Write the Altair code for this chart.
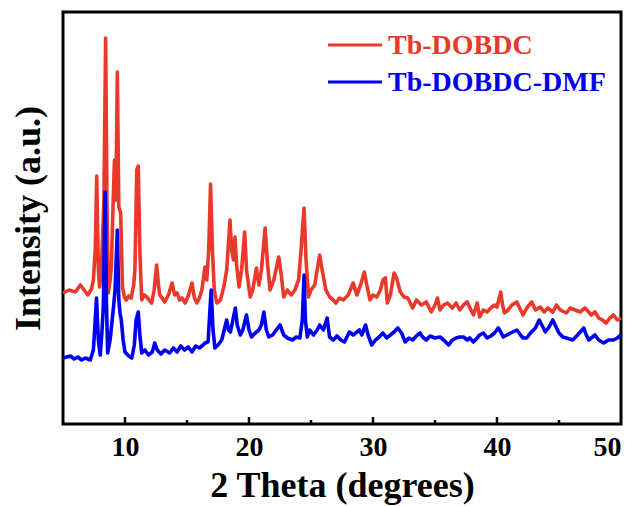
import altair as alt
import pandas as pd

# Powder XRD patterns, 2θ in degrees, intensity in arbitrary units (offset stacked)
tb_theta = [5.0, 5.5, 6.0, 6.4, 6.7, 7.0, 7.3, 7.45, 7.6, 7.72, 7.85, 7.95, 8.1, 8.3, 8.44, 8.55,
            8.65, 8.8, 8.9, 9.05, 9.15, 9.27, 9.38, 9.5, 9.65, 9.8, 9.95, 10.1, 10.3, 10.5, 10.7,
            10.8, 10.95, 11.07, 11.2, 11.35, 11.55, 11.75, 11.95, 12.15, 12.35, 12.55, 12.7, 12.8,
            13.0, 13.2, 13.5, 13.8, 14.0, 14.2, 14.4, 14.6, 14.85, 15.1, 15.4, 15.6, 15.8, 16.0,
            16.2, 16.45, 16.6, 16.75, 16.9, 17.05, 17.2, 17.4, 17.7, 18.0, 18.2, 18.47, 18.6, 18.75,
            18.87, 19.0, 19.2, 19.4, 19.65, 19.8, 20.1, 20.3, 20.6, 20.8, 21.0, 21.3, 21.5, 21.7,
            22.0, 22.4, 22.6, 22.8, 23.1, 23.4, 23.7, 24.0, 24.2, 24.44, 24.6, 24.8, 25.0, 25.3,
            25.7, 25.9, 26.2, 26.5, 26.8, 27.0, 27.3, 27.6, 28.0, 28.4, 28.7, 29.0, 29.3, 29.5,
            29.75, 30.0, 30.3, 30.6, 30.8, 31.0, 31.15, 31.4, 31.7, 31.9, 32.2, 32.5, 32.8, 33.2,
            33.5, 33.9, 34.3, 34.7, 35.0, 35.2, 35.4, 35.7, 36.0, 36.4, 36.7, 37.0, 37.3, 37.6,
            37.9, 38.1, 38.4, 38.6, 38.9, 39.2, 39.5, 39.8, 40.0, 40.3, 40.45, 40.6, 40.9, 41.2,
            41.6, 41.9, 42.1, 42.4, 42.8, 43.1, 43.5, 43.8, 44.1, 44.5, 44.8, 45.1, 45.6, 45.9,
            46.3, 46.7, 47.1, 47.4, 47.6, 47.9, 48.2, 48.5, 48.8, 49.1, 49.4, 49.7, 50.0]
tb_int = [131, 134, 132, 139, 134, 129, 135, 144, 174, 248, 154, 137, 157, 224, 386, 214,
          131, 144, 157, 224, 264, 224, 352, 217, 211, 137, 127, 124, 128, 126, 139,
          154, 254, 258, 171, 124, 129, 127, 124, 121, 134, 159, 139, 129,
          126, 122, 129, 141, 129, 131, 124, 126, 121, 128, 141, 126, 121, 126,
          134, 157, 144, 174, 240, 174, 134, 121, 124, 139, 154, 204, 174, 164,
          187, 159, 137, 154, 192, 154, 127, 134, 156, 139, 154, 196, 159, 134,
          144, 167, 149, 127, 134, 129, 134, 144, 174, 216, 164, 127, 134, 139,
          169, 154, 134, 127, 124, 121, 126, 124, 129, 141, 129, 139, 152, 139,
          124, 129, 127, 134, 144, 146, 121, 129, 151, 146, 132, 127, 126, 116,
          124, 119, 122, 112, 119, 126, 114, 119, 121, 116, 121, 114, 119, 122,
          114, 109, 121, 107, 114, 112, 116, 119, 117, 132, 119, 111, 114, 119,
          122, 114, 109, 116, 122, 114, 117, 112, 116, 112, 119, 114, 111, 116,
          114, 112, 116, 112, 109, 112, 106, 104, 101, 106, 109, 104, 106]

dmf_theta = [5.0, 5.3, 5.6, 5.9, 6.2, 6.5, 6.8, 7.2, 7.45, 7.6, 7.7, 7.85, 8.0, 8.15, 8.25, 8.4,
             8.5, 8.6, 8.8, 9.05, 9.2, 9.38, 9.5, 9.6, 9.7, 9.85, 10.0, 10.3, 10.55, 10.75, 10.9,
             11.07, 11.2, 11.35, 11.6, 11.9, 12.2, 12.4, 12.6, 12.9, 13.2, 13.6, 13.9, 14.2, 14.5,
             14.8, 15.1, 15.4, 15.7, 16.0, 16.3, 16.45, 16.7, 16.85, 16.95, 17.1, 17.25, 17.5,
             17.8, 18.0, 18.2, 18.35, 18.5, 18.7, 18.9, 19.05, 19.3, 19.5, 19.8, 20.0, 20.2, 20.5,
             20.8, 21.0, 21.2, 21.4, 21.6, 21.9, 22.2, 22.5, 22.8, 23.1, 23.5, 23.8, 24.1, 24.3,
             24.44, 24.55, 24.7, 24.9, 25.2, 25.5, 25.7, 26.0, 26.3, 26.5, 26.8, 27.1, 27.4, 27.7,
             28.1, 28.4, 28.9, 29.1, 29.4, 29.6, 29.9, 30.2, 30.5, 30.8, 31.1, 31.4, 31.7, 32.0,
             32.3, 32.6, 32.9, 33.2, 33.5, 33.8, 34.0, 34.3, 34.6, 35.0, 35.4, 35.7, 36.1, 36.4,
             36.7, 37.0, 37.3, 37.6, 37.8, 38.1, 38.4, 38.6, 38.9, 39.2, 39.5, 39.8, 40.1, 40.3,
             40.5, 40.8, 41.1, 41.6, 41.9, 42.1, 42.4, 42.7, 43.1, 43.4, 43.7, 43.9, 44.2, 44.5,
             44.8, 45.0, 45.3, 45.6, 46.1, 46.5, 47.0, 47.2, 47.4, 47.7, 47.9, 48.2, 48.6, 49.0,
             49.4, 49.7, 50.0]
dmf_int = [66, 67, 68, 65, 67, 64, 66, 64, 74, 104, 126, 84, 69, 94, 117, 232,
           124, 71, 84, 114, 134, 194, 124, 111, 104, 84, 72, 68, 66, 79, 104,
           112, 89, 71, 74, 69, 72, 81, 74, 70, 74, 71, 76, 72, 78,
           74, 77, 72, 78, 76, 79, 81, 82, 114, 134, 94, 76, 79,
           84, 94, 104, 94, 92, 104, 116, 99, 89, 94, 109, 94, 87, 91,
           94, 99, 112, 94, 87, 89, 94, 99, 89, 86, 84, 87, 86, 104,
           149, 104, 87, 94, 89, 94, 99, 94, 106, 87, 84, 88, 84, 82,
           92, 89, 94, 89, 99, 89, 79, 84, 87, 91, 86, 89, 92, 96,
           91, 82, 86, 84, 88, 91, 87, 84, 88, 86, 87, 84, 79, 84,
           86, 87, 87, 84, 86, 82, 86, 89, 91, 86, 88, 91, 96, 92,
           87, 89, 91, 94, 89, 86, 86, 91, 96, 104, 97, 92, 97, 104,
           96, 91, 87, 86, 84, 89, 96, 89, 84, 87, 89, 84, 81, 84,
           84, 86, 89]

series_names = ["Tb-DOBDC", "Tb-DOBDC-DMF"]
series_colors = ["#e8392a", "#0000f0"]

major_ticks = [10, 20, 30, 40]
minor_ticks = [15, 25, 35, 45]

df = pd.concat([
    pd.DataFrame({"theta": tb_theta, "intensity": tb_int, "sample": series_names[0]}),
    pd.DataFrame({"theta": dmf_theta, "intensity": dmf_int, "sample": series_names[1]}),
])

W, H = 558, 412
FONT = "Liberation Serif"

x_scale = alt.Scale(domain=[5, 50], nice=False, zero=False)
x_axis = alt.Axis(title="2 Theta (degrees)", values=[10, 20, 30, 40, 50],
                  format="d", domain=False, ticks=False, labelPadding=9,
                  labelFont=FONT, labelFontSize=28, labelFontWeight="bold",
                  labelColor="black", titleFont=FONT, titleFontSize=36,
                  titleFontWeight="bold", titleColor="black", titlePadding=7,
                  grid=False)

lines = alt.Chart(df).mark_line(strokeWidth=3.6, strokeJoin="round").encode(
    x=alt.X("theta:Q", scale=x_scale, axis=x_axis),
    y=alt.Y("intensity:Q", scale=alt.Scale(domain=[0, 412], nice=False),
            axis=alt.Axis(title="Intensity (a.u.)", labels=False, ticks=False,
                          domain=False, grid=False, titleFont=FONT, titleFontSize=36,
                          titleFontWeight="bold", titleColor="black", titlePadding=16)),
    color=alt.Color("sample:N", scale=alt.Scale(domain=series_names, range=series_colors),
                    legend=None),
)

# inward-pointing tick marks along the bottom frame
major = alt.Chart(pd.DataFrame({"theta": major_ticks})).mark_rule(
    color="black", strokeWidth=2.5).encode(
    x=alt.X("theta:Q", scale=x_scale, axis=x_axis),
    y=alt.value(H), y2=alt.value(H - 7))

minor = alt.Chart(pd.DataFrame({"theta": minor_ticks})).mark_rule(
    color="black", strokeWidth=2.5).encode(
    x=alt.X("theta:Q", scale=x_scale, axis=x_axis),
    y=alt.value(H), y2=alt.value(H - 4))

# legend: short coloured stroke followed by a coloured bold label
leg_layers = []
for i, (name, col) in enumerate(zip(series_names, series_colors)):
    ly = 33 + i * 37
    leg_df = pd.DataFrame({"sample": [name]})
    leg_layers.append(alt.Chart(leg_df).mark_rule(color=col, strokeWidth=3).encode(
        x=alt.value(265), x2=alt.value(319), y=alt.value(ly)))
    leg_layers.append(alt.Chart(leg_df).mark_text(
        align="left", baseline="middle", font=FONT, fontSize=28, fontWeight="bold",
        color=col).encode(text="sample:N", x=alt.value(325), y=alt.value(ly + 1)))

chart = alt.layer(lines, major, minor, *leg_layers).properties(
    width=W, height=H,
    padding={"left": 63, "top": 12, "right": 19, "bottom": 82},
    autosize="none",
    background="white",
).configure_view(stroke="black", strokeWidth=3)

chart.save("out.html", embed_options={"renderer": "svg", "actions": False})
